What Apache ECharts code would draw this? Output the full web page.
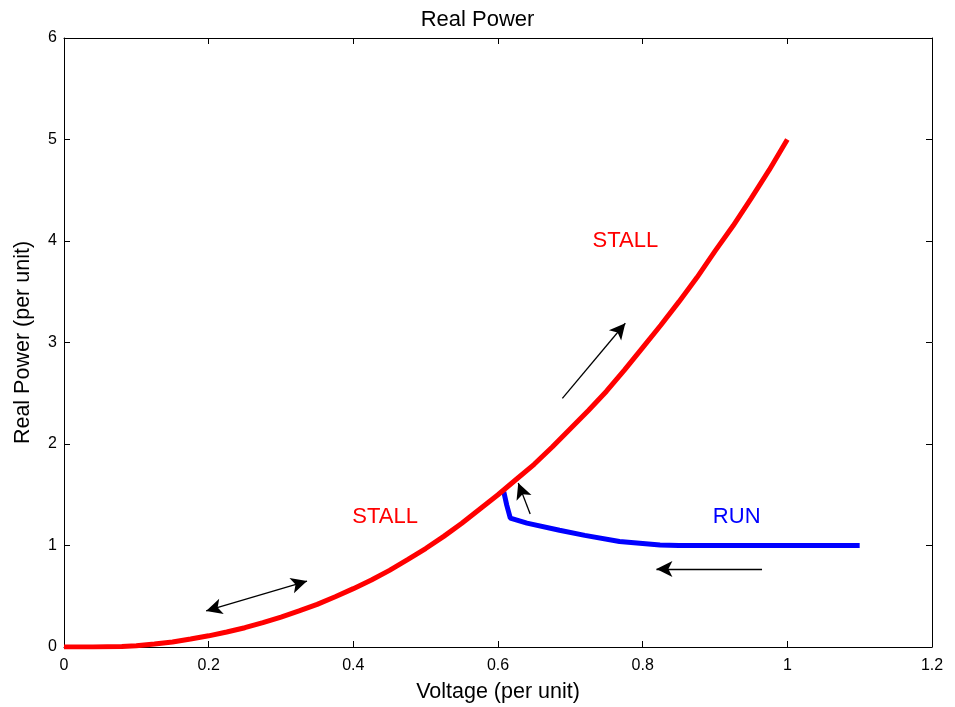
<!DOCTYPE html>
<html>
<head>
<meta charset="utf-8">
<script src="https://cdn.jsdelivr.net/npm/echarts@6/dist/echarts.min.js"></script>
<style>
html,body{margin:0;padding:0;background:#fff;}
#chart{width:955px;height:707px;}
</style>
</head>
<body>
<div id="chart"></div>
<script>
// Stall branch: voltage (pu) vs real power (pu)
const stallVoltage = [0, 0.04, 0.08, 0.1, 0.125, 0.15, 0.175, 0.2, 0.225, 0.25, 0.275, 0.3, 0.325, 0.35, 0.375, 0.4,
  0.425, 0.45, 0.475, 0.5, 0.525, 0.55, 0.575, 0.6, 0.625, 0.65, 0.675, 0.7, 0.725, 0.75, 0.775, 0.8,
  0.825, 0.85, 0.875, 0.9, 0.925, 0.95, 0.975, 1.0];
const stallPower = [0, 0, 0.004, 0.013, 0.03, 0.05, 0.078, 0.11, 0.148, 0.19, 0.24, 0.295, 0.355, 0.42, 0.495, 0.575,
  0.66, 0.755, 0.86, 0.97, 1.09, 1.22, 1.36, 1.5, 1.65, 1.8, 1.97, 2.15, 2.33, 2.52, 2.73, 2.95,
  3.17, 3.4, 3.64, 3.9, 4.15, 4.42, 4.7, 5.0];

// Run branch
const runVoltage = [0.608, 0.612, 0.617, 0.64, 0.685, 0.72, 0.768, 0.8, 0.824, 0.85, 1.1];
const runPower   = [1.53, 1.4, 1.27, 1.22, 1.15, 1.1, 1.04, 1.02, 1.005, 1.0, 1.0];

// Direction arrows: [fromV, fromP, toV, toP, both ends]
const arrows = [
  [0.1965, 0.355, 0.336, 0.65, true],
  [0.689, 2.45, 0.776, 3.19, false],
  [0.6445, 1.31, 0.628, 1.616, false],
  [0.965, 0.768, 0.819, 0.768, false]
];

// Region labels: [text, V, P, colour]
const regionLabels = [
  ['STALL', 0.444, 1.28, '#ff0000'],
  ['STALL', 0.776, 4.0, '#ff0000'],
  ['RUN', 0.930, 1.28, '#0000ff']
];

const xTicks = ['0', '0.2', '0.4', '0.6', '0.8', '1', '1.2'];
const yTicks = ['0', '1', '2', '3', '4', '5', '6'];

const font = 'Liberation Sans, Arial, sans-serif';

function frameAxis(extra) {
  return Object.assign({
    type: 'value',
    axisLine: {show: true, onZero: false, lineStyle: {color: '#000', width: 1}},
    axisTick: {show: true, inside: true, length: 6, lineStyle: {color: '#000', width: 1}},
    splitLine: {show: false},
    axisLabel: {show: false}
  }, extra);
}

const chart = echarts.init(document.getElementById('chart'));

const arrowSeries = arrows.map(a => ({
  type: 'line', data: [], z: 4,
  markLine: {
    silent: true, animation: false,
    symbol: a[4] ? ['arrow', 'arrow'] : ['none', 'arrow'],
    symbolSize: [12, 16],
    lineStyle: {color: '#000', width: 1.3, type: 'solid'},
    label: {show: false},
    emphasis: {disabled: true},
    data: [[{coord: [a[0], a[1]]}, {coord: [a[2], a[3]]}]]
  }
}));

chart.setOption({
  animation: false,
  backgroundColor: '#fff',
  title: {
    text: 'Real Power', left: 'center', top: 4,
    textStyle: {fontFamily: font, fontSize: 22, fontWeight: 'normal', color: '#000'}
  },
  grid: {left: 64, right: 23, top: 38, bottom: 60, show: false, containLabel: false, outerBoundsMode: 'none'},
  xAxis: [
    frameAxis({
      min: 0, max: 1.2, interval: 0.2, position: 'bottom',
      name: 'Voltage (per unit)', nameLocation: 'middle', nameGap: 34,
      nameTextStyle: {fontFamily: font, fontSize: 21.5, color: '#000'},
      axisLabel: {show: true, fontFamily: font, fontSize: 16, color: '#000', margin: 11,
        formatter: v => xTicks[Math.round(v / 0.2)]}
    }),
    frameAxis({min: 0, max: 1.2, interval: 0.2, position: 'top'})
  ],
  yAxis: [
    frameAxis({
      min: 0, max: 6, interval: 1, position: 'left',
      name: 'Real Power (per unit)', nameLocation: 'middle', nameGap: 30,
      nameTextStyle: {fontFamily: font, fontSize: 21.5, color: '#000'},
      axisLabel: {show: true, fontFamily: font, fontSize: 16, color: '#000', margin: 7,
        formatter: v => yTicks[Math.round(v)]}
    }),
    frameAxis({min: 0, max: 6, interval: 1, position: 'right'})
  ],
  series: [
    {
      type: 'line', name: 'stall', showSymbol: false,
      data: stallVoltage.map((v, i) => [v, stallPower[i]]),
      lineStyle: {color: '#ff0000', width: 5}, itemStyle: {color: '#ff0000'},
      z: 3
    },
    {
      type: 'line', name: 'run', showSymbol: false,
      data: runVoltage.map((v, i) => [v, runPower[i]]),
      lineStyle: {color: '#0000ff', width: 5}, itemStyle: {color: '#0000ff'},
      z: 2
    },
    {
      // binds the top and right frame axes
      type: 'line', xAxisIndex: 1, yAxisIndex: 1, data: [], silent: true
    },
    ...arrowSeries,
    {
      type: 'scatter', symbolSize: 0, silent: true,
      itemStyle: {opacity: 1, color: 'transparent'},
      data: regionLabels.map(l => ({
        value: [l[1], l[2]],
        label: {show: true, position: 'inside', formatter: l[0], color: l[3],
          textBorderWidth: 0, textShadowBlur: 0, opacity: 1,
          fontFamily: font, fontSize: 22}
      })),
      z: 5
    }
  ]
});
</script>
</body>
</html>
